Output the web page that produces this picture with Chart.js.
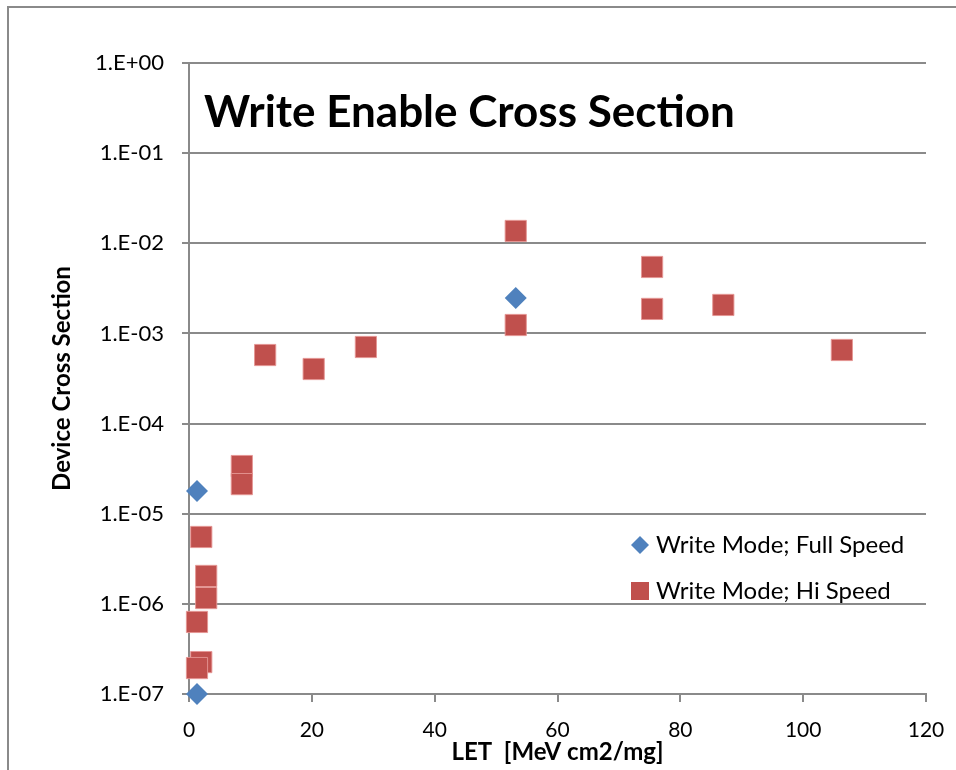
<!DOCTYPE html>
<html>
<head>
<meta charset="utf-8">
<script src="https://cdn.jsdelivr.net/npm/chart.js@4.4.1/dist/chart.umd.min.js"></script>
<style>
  html, body { margin: 0; padding: 0; background: #fff; }
  #wrap { width: 956px; height: 770px; position: relative; }
</style>
</head>
<body>
<div id="wrap"><canvas id="cross-section-chart" width="956" height="770"></canvas></div>
<script>
// LET values [MeV cm2/mg] and measured cross sections
const fullSpeedLet = [1.3, 1.3, 53.2];
const fullSpeedSigma = [1.79e-5, 1.0e-7, 2.47e-3];

const hiSpeedLet = [53.2, 53.2, 75.4, 75.4, 87.0, 106.3, 12.4, 20.3, 28.8, 8.6, 8.6, 2.0, 2.8, 2.8, 1.3, 2.0, 1.3];
const hiSpeedSigma = [1.37e-2, 1.24e-3, 5.46e-3, 1.87e-3, 2.07e-3, 6.55e-4, 5.76e-4, 4.03e-4, 7.07e-4,
    3.38e-5, 2.13e-5, 5.52e-6, 2.04e-6, 1.16e-6, 6.3e-7, 2.26e-7, 1.94e-7];

const seriesNames = ['Write Mode; Full Speed', 'Write Mode; Hi Speed'];
const xTicks = [0, 20, 40, 60, 80, 100, 120];
const yDecades = [1e-7, 1e-6, 1e-5, 1e-4, 1e-3, 1e-2, 1e-1, 1];

const chartTitle = 'Write Enable Cross Section';
const gridColor = '#8a8a8a';
const FONT = 'Lato';

function toPoints(xs, ys) {
    return xs.map((x, i) => ({x: x, y: ys[i]}));
}

function sciLabel(v) {
    const e = Math.round(Math.log10(v));
    const sign = e < 0 ? '-' : '+';
    return '1.E' + sign + String(Math.abs(e)).padStart(2, '0');
}

// outer frame, big title and the legend box inside the plot
const decorations = {
    id: 'decorations',
    afterDraw(chart) {
        const ctx = chart.ctx;
        ctx.save();
        ctx.strokeStyle = gridColor;
        ctx.lineWidth = 2;
        ctx.strokeRect(8, 7, 2000, 2000);

        ctx.fillStyle = '#000';
        ctx.font = 'bold 44px ' + FONT;
        ctx.textBaseline = 'alphabetic';
        ctx.textAlign = 'left';
        ctx.fillText(chartTitle, 204, 127);

        ctx.font = '24px ' + FONT;
        ctx.textBaseline = 'middle';
        chart.data.datasets.forEach((ds, i) => {
            const cx = 640;
            const cy = 545 + i * 46;
            ctx.fillStyle = ds.backgroundColor;
            ctx.beginPath();
            if (ds.pointStyle === 'rectRot') {
                ctx.moveTo(cx, cy - 9);
                ctx.lineTo(cx + 9, cy);
                ctx.lineTo(cx, cy + 9);
                ctx.lineTo(cx - 9, cy);
                ctx.closePath();
            } else {
                ctx.rect(cx - 9, cy - 9, 18, 18);
            }
            ctx.fill();
            ctx.fillStyle = '#000';
            ctx.fillText(ds.label, 656, cy);
        });
        ctx.restore();
    }
};

new Chart(document.querySelector('#cross-section-chart').getContext('2d'), {
    type: 'scatter',
    data: {
        datasets: [
            {
                label: seriesNames[0],
                data: toPoints(fullSpeedLet, fullSpeedSigma),
                pointStyle: 'rectRot',
                pointRadius: 11,
                pointHoverRadius: 11,
                backgroundColor: '#4f81bd',
                borderColor: '#4f81bd',
                borderWidth: 0,
                clip: false,
                order: 1
            },
            {
                label: seriesNames[1],
                data: toPoints(hiSpeedLet, hiSpeedSigma),
                pointStyle: 'rect',
                pointRadius: 15,
                pointHoverRadius: 15,
                backgroundColor: '#c0504d',
                borderColor: 'rgba(230,150,148,0.9)',
                borderWidth: 1,
                clip: false,
                order: 2
            }
        ]
    },
    options: {
        responsive: false,
        animation: false,
        layout: {padding: {top: 63, right: 0, left: 0, bottom: 0}},
        plugins: {
            legend: {display: false},
            tooltip: {enabled: false}
        },
        scales: {
            x: {
                type: 'linear',
                min: 0,
                max: 120,
                afterBuildTicks: axis => { axis.ticks = xTicks.map(v => ({value: v})); },
                afterFit: axis => {
                    axis.height = 76;
                    axis.paddingLeft = 0;
                    axis.paddingRight = 30;
                },
                grid: {
                    drawOnChartArea: false,
                    drawTicks: true,
                    tickLength: 8,
                    color: gridColor,
                    lineWidth: 2
                },
                border: {color: gridColor, width: 2},
                ticks: {
                    color: '#000',
                    padding: 16,
                    font: {family: FONT, size: 21},
                    maxRotation: 0
                },
                title: {
                    display: true,
                    text: 'LET  [MeV cm2/mg]',
                    color: '#000',
                    font: {family: FONT, size: 24, weight: 'bold'},
                    padding: {top: 0, bottom: 3}
                }
            },
            y: {
                type: 'logarithmic',
                min: 1e-7,
                max: 1,
                afterBuildTicks: axis => { axis.ticks = yDecades.map(v => ({value: v})); },
                afterFit: axis => { axis.width = 189; },
                grid: {
                    color: gridColor,
                    lineWidth: 2,
                    tickLength: 7
                },
                border: {color: gridColor, width: 2},
                ticks: {
                    color: '#000',
                    padding: 18,
                    font: {family: FONT, size: 22},
                    callback: v => sciLabel(v)
                },
                title: {
                    display: true,
                    text: 'Device Cross Section',
                    color: '#000',
                    font: {family: FONT, size: 24, weight: 'bold'},
                    padding: {top: 48, bottom: 0}
                }
            }
        }
    },
    plugins: [decorations]
});
</script>
</body>
</html>
